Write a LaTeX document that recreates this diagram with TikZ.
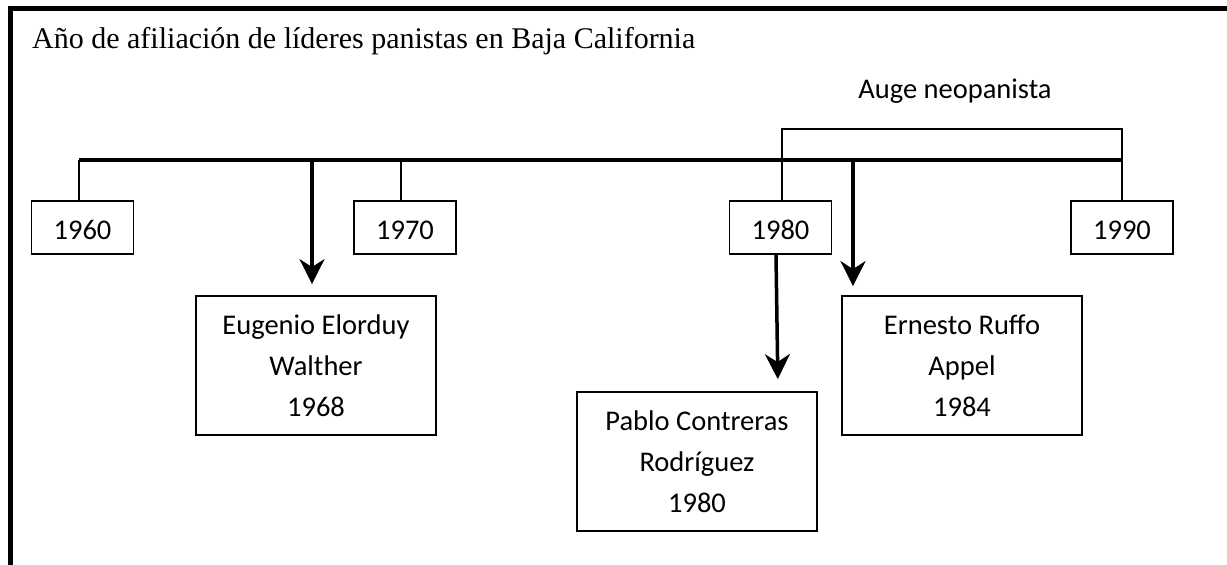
\documentclass[tikz,border=0pt]{standalone}
\usepackage{fontspec}
\setmainfont{Liberation Serif}
\newfontfamily\calibrifont{Carlito}
\usetikzlibrary{arrows.meta}
\begin{document}
\begin{tikzpicture}[x=1pt,y=-1pt,
 yearbox/.style={draw, line width=1.8pt, minimum width=102pt, minimum height=53pt, text height=24pt, text depth=0pt, font=\calibrifont\fontsize{28.5}{41}\selectfont, inner sep=0pt},
 namebox/.style={draw, line width=1.8pt, minimum width=240pt, minimum height=139pt, align=center, font=\calibrifont\fontsize{28.5}{41}\selectfont, inner sep=0pt},
 tick/.style={line width=2pt},
 mainline/.style={line width=4pt},
 arr/.style={line width=3.5pt, -{Stealth[length=25pt,width=25pt,inset=8pt]}},
]
\useasboundingbox (0,0) rectangle (1227,565);
% frame
\draw[line width=5pt] (10,565) -- (10,8.5) -- (1227,8.5);
% title
\node[anchor=base west, inner sep=0pt, font=\fontsize{30}{36}\selectfont] (title) at (32,48) {Año de afiliación de líderes panistas en Baja California};
\node[anchor=base, inner sep=0pt, font=\calibrifont\fontsize{28.5}{34}\selectfont] (auge) at (955,98) {Auge neopanista};
% timeline
\coordinate (L) at (79,160);
\coordinate (R) at (1123,160);
\coordinate (BL) at (782,129);
\coordinate (BR) at (1122,129);
% year boxes
\node[yearbox] (y60) at (82.5,227.5) {1960};
\node[yearbox] (y70) at (405,227.5) {1970};
\node[yearbox] (y80) at (780.5,227.5) {1980};
\node[yearbox] (y90) at (1122,227.5) {1990};
% name boxes
\node[namebox] (eug) at (316,365.5) {Eugenio Elorduy\\Walther\\1968};
\node[namebox] (pab) at (697,461.5) {Pablo Contreras\\Rodríguez\\1980};
\node[namebox] (ern) at (962,365.5) {Ernesto Ruffo\\Appel\\1984};
% lines
\draw[mainline] (L) -- (R);
\draw[tick] (y60.north -| L) -- (L);
\draw[tick] (y70.north) ++(-4,0) coordinate (t70) -- (t70 |- L);
\draw[tick] (BL |- y80.north) -- (BL) -- (BR) -- (BR |- y90.north);
% arrows
\draw[arr, shorten >=11pt] ([xshift=-4pt]eug.north |- L) -- ([xshift=-4pt]eug.north);
\draw[arr, shorten >=9pt] ([xshift=-109pt]ern.north |- L) -- ([xshift=-109pt]ern.north);
\draw[arr, shorten >=12pt] ([xshift=-4.5pt]y80.south) -- ([xshift=81pt]pab.north);
\end{tikzpicture}
\end{document}
